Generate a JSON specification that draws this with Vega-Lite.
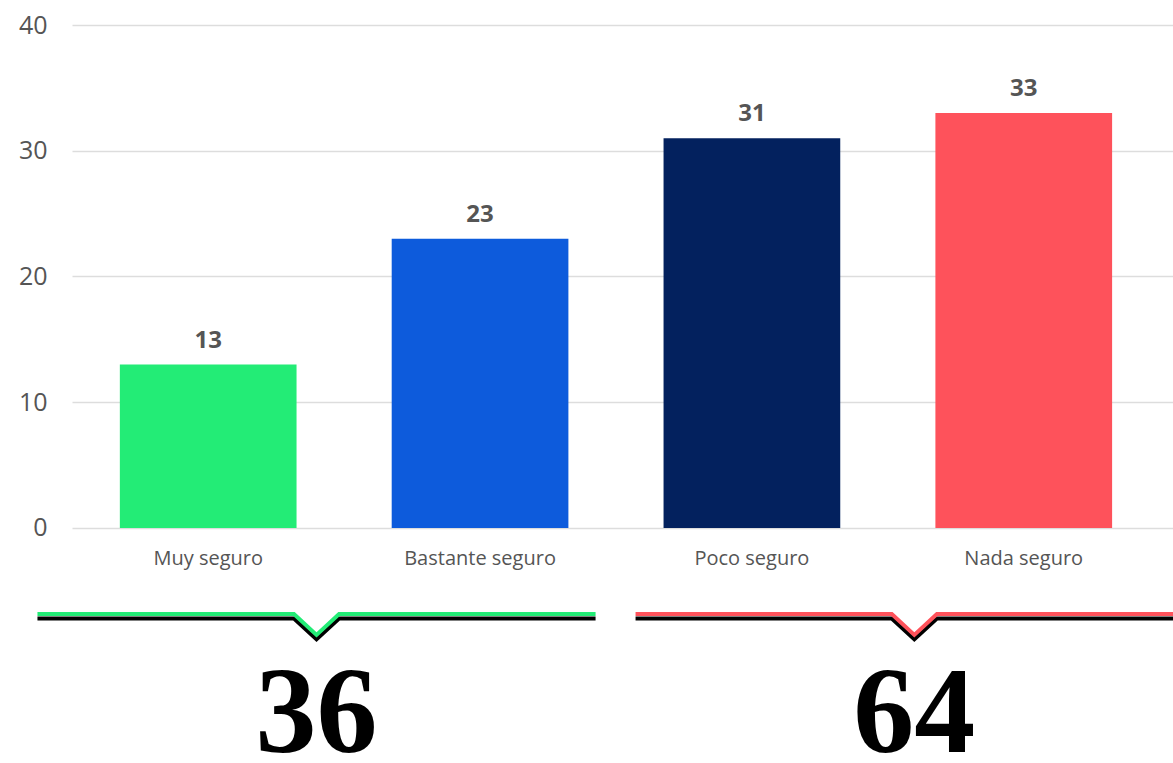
{
  "$schema": "https://vega.github.io/schema/vega-lite/v6.json",
  "autosize": {"type": "none"},
  "padding": {"left": 72, "top": 25, "right": 0, "bottom": 0},
  "width": 1101,
  "height": 738,
  "config": {"view": {"stroke": null}, "font": "Open Sans", "background": "white"},
  "datasets": {
    "barras": [
      {"respuesta": "Muy seguro", "valor": 13},
      {"respuesta": "Bastante seguro", "valor": 23},
      {"respuesta": "Poco seguro", "valor": 31},
      {"respuesta": "Nada seguro", "valor": 33}
    ],
    "llaves": [
      {"grupo": "seguro", "u": -0.127, "v": -6.85},
      {"grupo": "seguro", "u": 0.816, "v": -6.85},
      {"grupo": "seguro", "u": 0.899, "v": -8.5},
      {"grupo": "seguro", "u": 0.982, "v": -6.85},
      {"grupo": "seguro", "u": 1.925, "v": -6.85},
      {"grupo": "inseguro", "u": 2.072, "v": -6.85},
      {"grupo": "inseguro", "u": 3.014, "v": -6.85},
      {"grupo": "inseguro", "u": 3.097, "v": -8.5},
      {"grupo": "inseguro", "u": 3.18, "v": -6.85},
      {"grupo": "inseguro", "u": 4.123, "v": -6.85}
    ],
    "totales": [
      {"grupo": "seguro", "u": 0.899, "v": -17.8, "total": 36},
      {"grupo": "inseguro", "u": 3.097, "v": -17.8, "total": 64}
    ]
  },
  "layer": [
    {
      "data": {"name": "barras"},
      "layer": [
        {
          "mark": {"type": "bar"},
          "encoding": {
            "x": {
              "field": "respuesta", "type": "nominal", "sort": null,
              "scale": {"paddingInner": 0.35, "paddingOuter": 0.2, "align": 0.44},
              "axis": {"title": null, "domain": false, "ticks": false, "labelAngle": 0, "labelFontSize": 20, "labelColor": "#555555", "labelPadding": 20, "offset": -235, "grid": false}
            },
            "y": {
              "field": "valor", "type": "quantitative",
              "scale": {"domain": [-18.69, 40], "nice": false, "zero": false},
              "axis": {"title": null, "values": [0, 10, 20, 30, 40], "domain": false, "ticks": false, "labelFontSize": 25, "labelColor": "#555555", "labelPadding": 25, "gridColor": "#dddddd", "gridWidth": 1.5}
            },
            "y2": {"datum": 0},
            "color": {
              "field": "respuesta", "type": "nominal", "legend": null,
              "scale": {"domain": ["Muy seguro", "Bastante seguro", "Poco seguro", "Nada seguro"], "range": ["#23ec76", "#0d5bdc", "#03215e", "#fe525b"]}
            }
          }
        },
        {
          "mark": {"type": "text", "baseline": "bottom", "dy": -12, "fontWeight": "bold", "fontSize": 24, "color": "#555555"},
          "encoding": {
            "x": {"field": "respuesta", "type": "nominal", "sort": null},
            "y": {"field": "valor", "type": "quantitative"},
            "text": {"field": "valor", "type": "quantitative"}
          }
        }
      ]
    },
    {
      "layer": [
        {
          "data": {"name": "llaves"},
          "mark": {"type": "line", "color": "#000000", "strokeWidth": 4, "yOffset": 4.5, "strokeJoin": "miter"},
          "encoding": {
            "x": {"field": "u", "type": "quantitative", "scale": {"domain": [0, 4.048], "nice": false, "zero": false}, "axis": null},
            "y": {"field": "v", "type": "quantitative", "scale": {"domain": [-18.69, 40], "nice": false, "zero": false}, "axis": null},
            "detail": {"field": "grupo", "type": "nominal"}
          }
        },
        {
          "data": {"name": "llaves"},
          "mark": {"type": "line", "strokeWidth": 4, "strokeJoin": "miter"},
          "encoding": {
            "x": {"field": "u", "type": "quantitative"},
            "y": {"field": "v", "type": "quantitative"},
            "color": {"field": "grupo", "type": "nominal", "legend": null, "scale": {"domain": ["seguro", "inseguro"], "range": ["#23ec76", "#fe525b"]}}
          }
        },
        {
          "data": {"name": "totales"},
          "mark": {"type": "text", "font": "Liberation Serif", "fontWeight": "bold", "fontSize": 122, "color": "#000000", "baseline": "alphabetic", "align": "center"},
          "encoding": {
            "x": {"field": "u", "type": "quantitative"},
            "y": {"field": "v", "type": "quantitative"},
            "text": {"field": "total", "type": "quantitative"}
          }
        }
      ]
    }
  ],
  "resolve": {"scale": {"x": "independent", "y": "independent", "color": "independent"}}
}
